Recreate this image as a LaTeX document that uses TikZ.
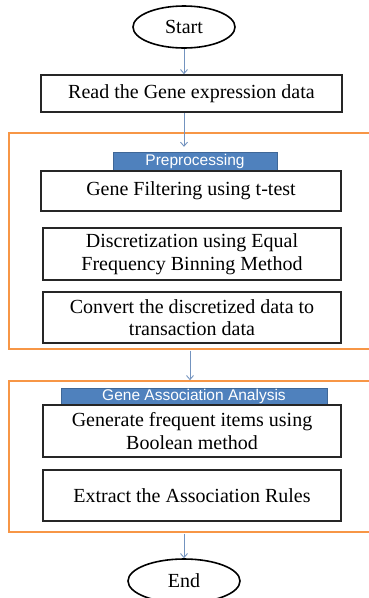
\documentclass[tikz,border=0pt]{standalone}
\usepackage{fontspec}
\setmainfont{Liberation Serif}
\setsansfont{Liberation Sans}
\usetikzlibrary{shapes.geometric,arrows.meta}
\definecolor{frameorange}{HTML}{F79646}
\definecolor{tabblue}{HTML}{4F81BD}
\definecolor{arrowblue}{HTML}{7393BF}
\tikzset{
  stepbox/.style={draw=black!85, line width=1.6pt, fill=white, align=center, inner sep=2pt,
    font=\fontsize{20}{22.5}\selectfont},
  terminal/.style={ellipse, draw=black, line width=1.6pt, fill=white, inner sep=0pt,
    font=\fontsize{20}{22}\selectfont},
  frame/.style={draw=frameorange, line width=1.6pt, inner sep=0pt},
  tab/.style={fill=tabblue, draw=tabblue!80!black, line width=0.4pt, text=white, inner sep=0pt,
    font=\sffamily\fontsize{15.5}{17}\selectfont},
  flow/.style={draw=arrowblue, line width=0.9pt, -{Straight Barb[length=4pt,width=7pt]}}
}
\begin{document}
\begin{tikzpicture}[x=1pt,y=-1pt]
\useasboundingbox (0,0) rectangle (368,598);
% orange frames
\node[frame, minimum width=363pt, minimum height=216pt] (pre) at (190.5,241) {};
\node[frame, minimum width=363pt, minimum height=151pt] (gaa) at (190.5,456.5) {};
% terminals
\node[terminal, minimum width=102pt, minimum height=42pt] (start) at (184,27) {Start};
\node[terminal, minimum width=112pt, minimum height=44pt] (end) at (184,581) {End};
% steps
\node[stepbox, minimum width=301pt, minimum height=37pt] (read) at (191.5,93.5) {Read the Gene expression data};
\node[tab, minimum width=164pt, minimum height=19pt] (pretab) at (195,161.5) {Preprocessing};
\node[stepbox, minimum width=300pt, minimum height=40pt] (filter) at (191,191) {Gene Filtering using t-test};
\node[stepbox, minimum width=298pt, minimum height=52pt] (disc) at (192,254) {Discretization using Equal\\Frequency Binning Method};
\node[stepbox, minimum width=298pt, minimum height=51pt] (conv) at (192,317.5) {Convert the discretized data to\\transaction data};
\node[tab, minimum width=266pt, minimum height=17pt] (gaatab) at (194,396.5) {Gene Association Analysis};
\node[stepbox, minimum width=298pt, minimum height=52pt] (gen) at (192,431) {Generate frequent items using\\Boolean method};
\node[stepbox, minimum width=298pt, minimum height=51pt] (extract) at (192,495.5) {Extract the Association Rules};
% connectors
\draw[flow] (start.south) -- (read.north -| start.south);
\draw[flow, shorten >=5pt] (read.south -| start.south) -- (pretab.north -| start.south);
\draw[flow, shorten <=0.8pt] (pre.south -| 190,0) -- (gaa.north -| 190,0);
\draw[flow, shorten <=0.8pt] (gaa.south -| end.north) -- (end.north);
\end{tikzpicture}
\end{document}
